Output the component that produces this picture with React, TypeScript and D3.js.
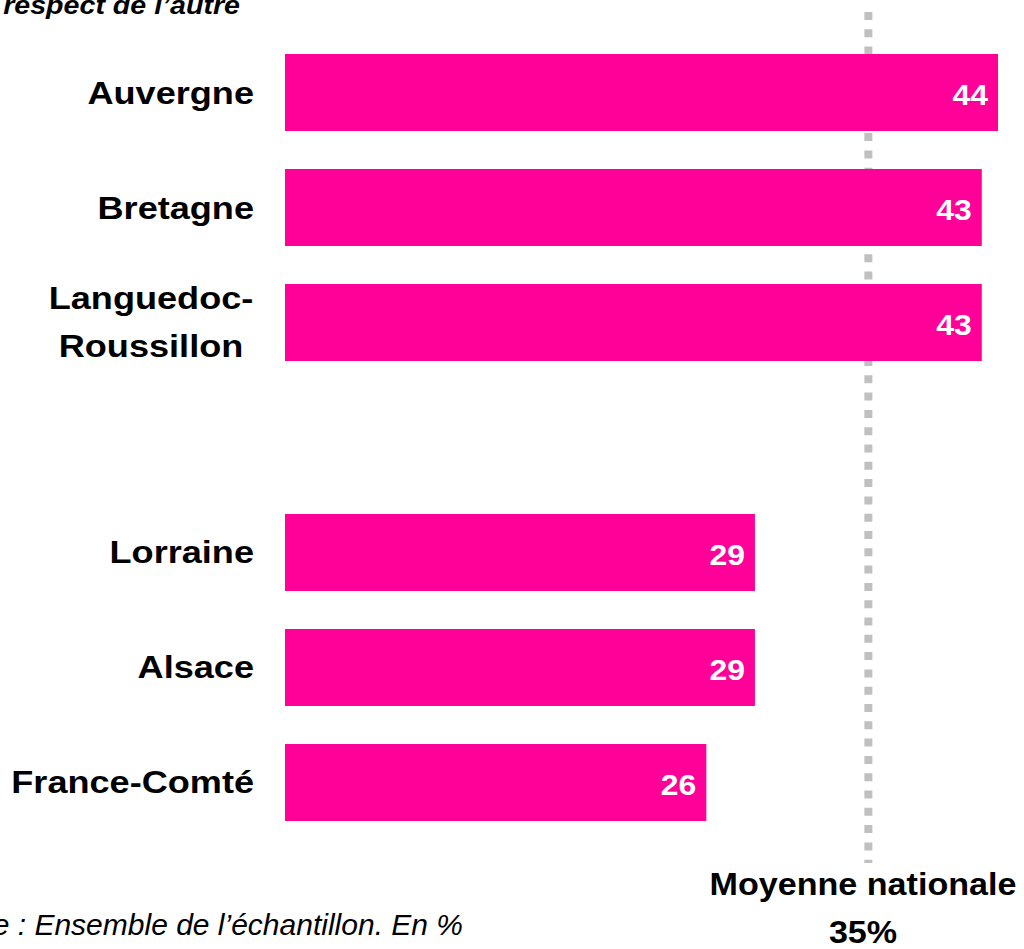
import React from "react";
import * as d3 from "d3";

const regions = ["Auvergne", "Bretagne", "Languedoc-Roussillon", "__gap__", "Lorraine", "Alsace", "France-Comté"];
const values: (number | null)[] = [44, 43, 43, null, 29, 29, 26];
const labelLines: string[][] = [["Auvergne"], ["Bretagne"], ["Languedoc-", "Roussillon"], [], ["Lorraine"], ["Alsace"], ["France-Comté"]];
const nationalAverage = 35;
const averageLinePosition = 36; // where the reference draws the average line on the value scale
const titleText = "respect de l’autre";
const footerText = "Base : Ensemble de l’échantillon. En %";
const avgLabel = ["Moyenne nationale", "35%"];

const W = 1024;
const H = 949;
const PINK = "#FF0099";
const FONT = "'Liberation Sans', Arial, sans-serif";
const SX = 1.1;
const SXL = 1.165;

export default function App() {
  const x = d3.scaleLinear().domain([0, 44]).range([285, 998]);
  const y = d3.scaleBand<string>().domain(regions).range([54, 821]).paddingInner(0.3304).paddingOuter(0);
  const bw = y.bandwidth();
  const lineX = x(averageLinePosition);

  return (
    <svg width={W} height={H} style={{ position: "absolute", left: 0, top: 0, background: "#fff" }} fontFamily={FONT}>
      <rect x={0} y={0} width={W} height={H} fill="#fff" />
      {/* title (cropped) */}
      <g transform={`translate(240,14) scale(${SX},1)`}>
        <text textAnchor="end" fontSize={26} fontWeight="bold" fontStyle="italic" fill="#000">{titleText}</text>
      </g>
      {/* average line */}
      <line x1={lineX} x2={lineX} y1={12} y2={863} stroke="#C0C0C0" strokeWidth={8} strokeDasharray="8,9.3" />
      {regions.map((r, i) => {
        const v = values[i];
        if (v === null) return null;
        const y0 = y(r)!;
        const cy = y0 + bw / 2;
        const lines = labelLines[i];
        return (
          <g key={r}>
            <rect x={x(0)} y={y0} width={x(v) - x(0)} height={bw} fill={PINK} />
            <g transform={`translate(${x(v) - 10},${cy + 12.5}) scale(${SX},1)`}>
              <text textAnchor="end" fontSize={29} fontWeight="bold" fill="#fff">{v}</text>
            </g>
            {lines.length === 1 ? (
              <g transform={`translate(254,${cy + 11}) scale(${SXL},1)`}>
                <text textAnchor="end" fontSize={31} fontWeight="bold" fill="#000">{lines[0]}</text>
              </g>
            ) : (
              lines.map((ln, k) => (
                <g key={k} transform={`translate(151,${cy - 13.5 + k * 48}) scale(${SXL},1)`}>
                  <text textAnchor="middle" fontSize={31} fontWeight="bold" fill="#000">{ln}</text>
                </g>
              ))
            )}
          </g>
        );
      })}
      {/* average label */}
      {avgLabel.map((t, k) => (
        <g key={k} transform={`translate(863,${895 + k * 48}) scale(${SX},1)`}>
          <text textAnchor="middle" fontSize={31} fontWeight="bold" fill="#000">{t}</text>
        </g>
      ))}
      {/* footer (cropped) */}
      <text x={463} y={935} textAnchor="end" fontSize={30} fontStyle="italic" fill="#000">{footerText}</text>
      <desc>{`Moyenne nationale ${nationalAverage}%`}</desc>
    </svg>
  );
}
